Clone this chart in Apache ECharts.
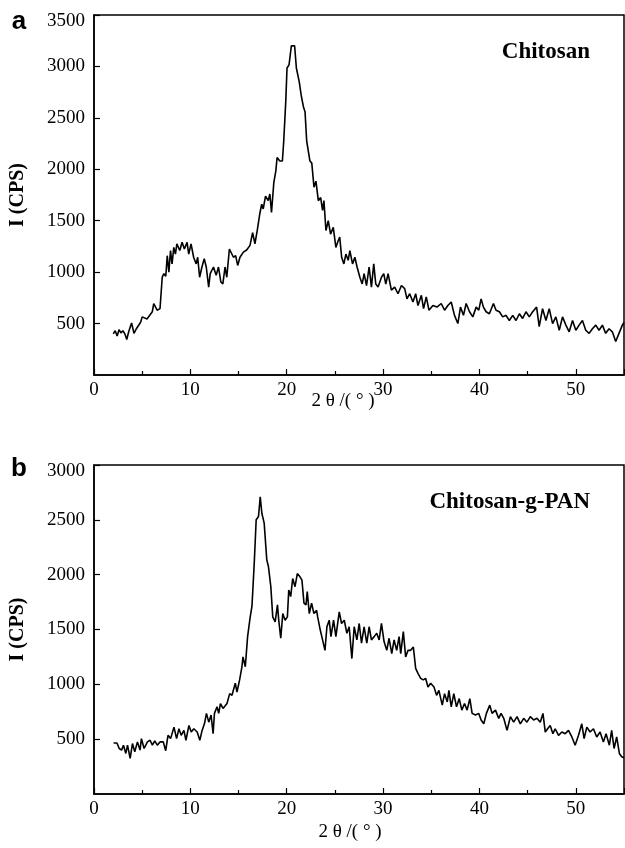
<!DOCTYPE html>
<html>
<head>
<meta charset="utf-8">
<title>XRD chitosan</title>
<script src="https://cdn.jsdelivr.net/npm/echarts@6.0.0/dist/echarts.min.js"></script>
<style>
html, body { margin: 0; padding: 0; background: #fff; }
#main { width: 625px; height: 848px; }
</style>
</head>
<body>
<div id="main"></div>
<script>
// (a) Chitosan
var thetaA = [2.0, 2.2, 2.4, 2.6, 2.8, 3.0, 3.2, 3.4, 3.6, 3.9, 4.15, 4.4, 4.85, 5.0, 5.5, 6.05, 6.2, 6.55, 6.85,
  7.08, 7.25, 7.45, 7.6, 7.77, 7.94, 8.1, 8.28, 8.45, 8.6, 8.9, 9.14, 9.38, 9.66, 9.83, 10.07, 10.34, 10.6, 10.76,
  10.96, 11.2, 11.44, 11.65, 11.9, 12.06, 12.4, 12.68, 12.92, 13.16, 13.37, 13.6, 13.78, 14.05, 14.23, 14.47, 14.7,
  14.91, 15.15, 15.5, 15.84, 16.19, 16.46, 16.7, 16.94, 17.2, 17.4, 17.56, 17.8, 18.08, 18.25, 18.42, 18.66, 18.87,
  19.0, 19.28, 19.55, 19.69, 19.9, 20.03, 20.24, 20.48, 20.82, 21.0, 21.3, 21.5, 21.75, 21.9, 22.07, 22.41, 22.6,
  22.83, 23.03, 23.28, 23.52, 23.72, 23.86, 24.07, 24.31, 24.55, 24.83, 25.1, 25.34, 25.5, 25.7, 25.93, 26.14, 26.38,
  26.55, 26.83, 27.07, 27.3, 27.59, 27.83, 28.03, 28.28, 28.55, 28.79, 29.03, 29.24, 29.48, 29.83, 30.07, 30.28,
  30.52, 30.86, 31.2, 31.55, 31.9, 32.24, 32.48, 32.76, 33.1, 33.38, 33.62, 33.97, 34.2, 34.48, 34.76, 35.17, 35.59,
  36.03, 36.38, 36.72, 37.07, 37.41, 37.76, 38.03, 38.34, 38.62, 38.97, 39.31, 39.66, 39.93, 40.17, 40.41, 40.69,
  41.03, 41.45, 41.72, 42.07, 42.41, 42.76, 43.1, 43.45, 43.79, 44.14, 44.48, 44.83, 45.17, 45.52, 45.93, 46.2,
  46.55, 46.9, 47.24, 47.59, 47.93, 48.28, 48.62, 48.97, 49.31, 49.66, 50.0, 50.34, 50.69, 51.03, 51.38, 51.72,
  52.07, 52.41, 52.76, 53.1, 53.45, 53.79, 54.14, 54.48, 54.83, 55.0];
var intensityA = [400, 430, 380, 440, 410, 430, 400, 345, 420, 505, 405, 450, 515, 565, 545, 615, 695, 630, 645,
  950, 985, 960, 1160, 1000, 1210, 1080, 1240, 1175, 1275, 1210, 1290, 1225, 1290, 1175, 1275, 1145, 1080, 1145,
  950, 1050, 1130, 1050, 855, 985, 1050, 970, 1050, 905, 885, 1050, 950, 1225, 1240, 1145, 1160,
  1065, 1145, 1195, 1215, 1260, 1385, 1275, 1405, 1565, 1660, 1615, 1740, 1695, 1760, 1580, 1870, 1985,
  2115, 2080, 2080, 2275, 2660, 2985, 3015, 3200, 3200, 2985, 2850, 2720, 2600, 2560, 2275, 2080, 2060,
  1825, 1885, 1695, 1725, 1600, 1695, 1405, 1500, 1370, 1435, 1240, 1305, 1340, 1145, 1080, 1175, 1115,
  1210, 1080, 1145, 1050, 950, 885, 985, 870, 1050, 855, 1080, 885, 855, 950, 985, 885,
  985, 825, 855, 790, 870, 840, 740, 790, 710, 790, 675, 775, 645, 760, 630, 675, 660,
  695, 630, 675, 710, 580, 500, 660, 580, 695, 615, 565, 660, 630, 740, 660, 615,
  595, 695, 630, 615, 565, 580, 530, 580, 530, 595, 550, 615, 565, 615, 660, 470,
  645, 530, 645, 500, 565, 435, 565, 485, 420, 530, 435, 485, 530, 435, 405, 450,
  485, 435, 485, 405, 450, 420, 325, 405, 485, 510];

// (b) Chitosan-g-PAN
var thetaB = [2.03, 2.38, 2.62, 2.86, 3.06, 3.3, 3.48, 3.75, 3.99, 4.23, 4.51, 4.78, 4.92, 5.2, 5.54, 5.82, 6.06,
  6.3, 6.57, 6.85, 7.19, 7.44, 7.68, 7.95, 8.3, 8.57, 8.81, 9.05, 9.33, 9.54, 9.85, 10.09, 10.36, 10.71, 10.98,
  11.22, 11.46, 11.67, 11.91, 12.15, 12.36, 12.5, 12.77, 12.94, 13.12, 13.39, 13.8, 14.08, 14.32, 14.66, 14.84,
  15.11, 15.35, 15.46, 15.7, 15.94, 16.21, 16.39, 16.63, 16.83, 17.07, 17.25, 17.42, 17.66, 17.93, 18.1, 18.35,
  18.55, 18.8, 19.04, 19.17, 19.38, 19.59, 19.83, 20.07, 20.21, 20.41, 20.62, 20.86, 21.1, 21.38, 21.58, 21.79,
  22.0, 22.13, 22.34, 22.58, 22.82, 23.1, 23.21, 23.48, 23.72, 23.97, 24.17, 24.41, 24.59, 24.86, 25.1, 25.45,
  25.69, 25.97, 26.24, 26.48, 26.76, 27.0, 27.28, 27.52, 27.76, 28.03, 28.31, 28.55, 28.79, 29.07, 29.34, 29.59,
  29.83, 30.1, 30.38, 30.62, 30.9, 31.14, 31.41, 31.66, 31.83, 32.1, 32.34, 32.59, 32.86, 33.14, 33.38, 33.62,
  33.9, 34.17, 34.41, 34.66, 34.93, 35.28, 35.55, 35.79, 36.14, 36.38, 36.66, 36.83, 37.07, 37.34, 37.62, 37.9,
  38.17, 38.45, 38.72, 39.0, 39.24, 39.59, 39.93, 40.17, 40.45, 40.72, 41.07, 41.31, 41.66, 42.0, 42.24, 42.52,
  42.86, 43.21, 43.55, 43.9, 44.24, 44.59, 44.93, 45.28, 45.62, 45.97, 46.31, 46.59, 46.83, 47.07, 47.34, 47.62,
  47.86, 48.21, 48.55, 48.9, 49.24, 49.59, 49.93, 50.28, 50.62, 50.86, 51.14, 51.48, 51.83, 52.17, 52.52, 52.86,
  53.14, 53.48, 53.72, 53.97, 54.24, 54.52, 54.76, 55.0];
var intensityB = [465, 465, 415, 400, 445, 370, 445, 325, 460, 385, 475, 400, 505, 415, 475, 490, 445,
  485, 445, 475, 475, 395, 535, 505, 610, 505, 595, 535, 580, 490, 625, 565, 595, 565, 490,
  580, 640, 735, 655, 720, 550, 735, 795, 735, 825, 780, 825, 915, 900, 1010, 930,
  1040, 1160, 1250, 1160, 1435, 1615, 1710, 2105, 2500, 2530, 2710, 2560, 2470, 2135, 2075, 1890,
  1615, 1570, 1725, 1585, 1420, 1645, 1585, 1615, 1860, 1800, 1965, 1890, 2010, 1980, 1950, 1740,
  1725, 1845, 1645, 1740, 1645, 1675, 1615, 1495, 1405, 1310, 1525, 1585, 1435, 1585, 1435, 1660,
  1555, 1585, 1465, 1525, 1235, 1525, 1405, 1555, 1375, 1525, 1375, 1525, 1405, 1435, 1465, 1405,
  1555, 1390, 1310, 1420, 1280, 1405, 1310, 1435, 1280, 1480, 1250, 1310, 1310, 1340, 1145, 1100,
  1055, 1040, 1055, 975, 1010, 975, 900, 945, 810, 915, 840, 945, 795, 915, 795, 870,
  765, 825, 765, 870, 735, 720, 735, 675, 640, 735, 810, 735, 765, 690, 735, 690,
  580, 705, 655, 705, 640, 690, 655, 705, 675, 690, 655, 735, 565, 595, 625, 550,
  595, 535, 565, 550, 580, 520, 445, 535, 640, 505, 610, 565, 595, 520, 565, 475,
  550, 445, 580, 415, 520, 370, 340, 330];

var yTicksA = { max: 3500, step: 500 };
var yTicksB = { max: 3000, step: 500 };
var xRange = { min: 0, max: 55, step: 10 };

function pairs(xs, ys) {
  var out = [];
  for (var i = 0; i < xs.length; i++) out.push([xs[i], ys[i]]);
  return out;
}

var serif = '"Liberation Serif", "Times New Roman", serif';
var chart = echarts.init(document.getElementById('main'));

function xAxisOf(idx) {
  return {
    gridIndex: idx, type: 'value', min: xRange.min, max: xRange.max, interval: xRange.step,
    axisLine: { lineStyle: { color: '#000', width: 1.5 } },
    axisTick: { inside: true, length: 6, lineStyle: { color: '#000', width: 1.2 } },
    minorTick: { show: true, splitNumber: 2, length: 4, lineStyle: { color: '#000', width: 1.2 } },
    axisLabel: { color: '#000', fontFamily: serif, fontSize: 19, margin: 6, showMaxLabel: false,
      formatter: function (v) { return String(v); } },
    splitLine: { show: false }
  };
}
function yAxisOf(idx, t) {
  return {
    gridIndex: idx, type: 'value', min: 0, max: t.max, interval: t.step,
    name: 'I (CPS)', nameLocation: 'middle', nameGap: 66, nameRotate: 90,
    nameTextStyle: { color: '#000', fontFamily: serif, fontSize: 20, fontWeight: 'bold' },
    axisLine: { lineStyle: { color: '#000', width: 1.5 } },
    axisTick: { inside: true, length: 6, lineStyle: { color: '#000', width: 1.2 } },
    axisLabel: {
      color: '#000', fontFamily: serif, fontSize: 19, margin: 9, showMinLabel: false,
      // the top label sits a little below the frame in the original
      formatter: function (v) { return v === t.max ? '{top|' + v + '}' : String(v); },
      rich: { top: { fontFamily: serif, fontSize: 19, color: '#000', padding: [12, 0, 0, 0] } }
    },
    splitLine: { show: false }
  };
}

chart.setOption({
  animation: false,
  grid: [
    { left: 93, right: 1, top: 15, height: 360, show: true, borderColor: '#000', borderWidth: 1.5 },
    { left: 93, right: 1, top: 465, height: 329, show: true, borderColor: '#000', borderWidth: 1.5 }
  ],
  xAxis: [xAxisOf(0), xAxisOf(1)],
  yAxis: [yAxisOf(0, yTicksA), yAxisOf(1, yTicksB)],
  series: [
    { type: 'line', xAxisIndex: 0, yAxisIndex: 0, data: pairs(thetaA, intensityA), showSymbol: false,
      lineStyle: { color: '#000', width: 1.6 } },
    { type: 'line', xAxisIndex: 1, yAxisIndex: 1, data: pairs(thetaB, intensityB), showSymbol: false,
      lineStyle: { color: '#000', width: 1.6 } }
  ],
  graphic: [
    { type: 'text', x: 19, y: 22, style: { text: 'a', fill: '#000', font: 'bold 26px "Liberation Sans", Arial, sans-serif', textAlign: 'center', textVerticalAlign: 'middle' } },
    { type: 'text', x: 19, y: 469, style: { text: 'b', fill: '#000', font: 'bold 26px "Liberation Sans", Arial, sans-serif', textAlign: 'center', textVerticalAlign: 'middle' } },
    { type: 'text', x: 590, y: 52, style: { text: 'Chitosan', fill: '#000', font: 'bold 23px ' + serif, textAlign: 'right', textVerticalAlign: 'middle' } },
    { type: 'text', x: 590, y: 502, style: { text: 'Chitosan-g-PAN', fill: '#000', font: 'bold 23px ' + serif, textAlign: 'right', textVerticalAlign: 'middle' } },
    { type: 'text', x: 343, y: 401, style: { text: '2 θ /( ° )', fill: '#000', font: '19px ' + serif, textAlign: 'center', textVerticalAlign: 'middle' } },
    { type: 'text', x: 350, y: 832, style: { text: '2 θ /( ° )', fill: '#000', font: '19px ' + serif, textAlign: 'center', textVerticalAlign: 'middle' } }
  ]
});
</script>
</body>
</html>
